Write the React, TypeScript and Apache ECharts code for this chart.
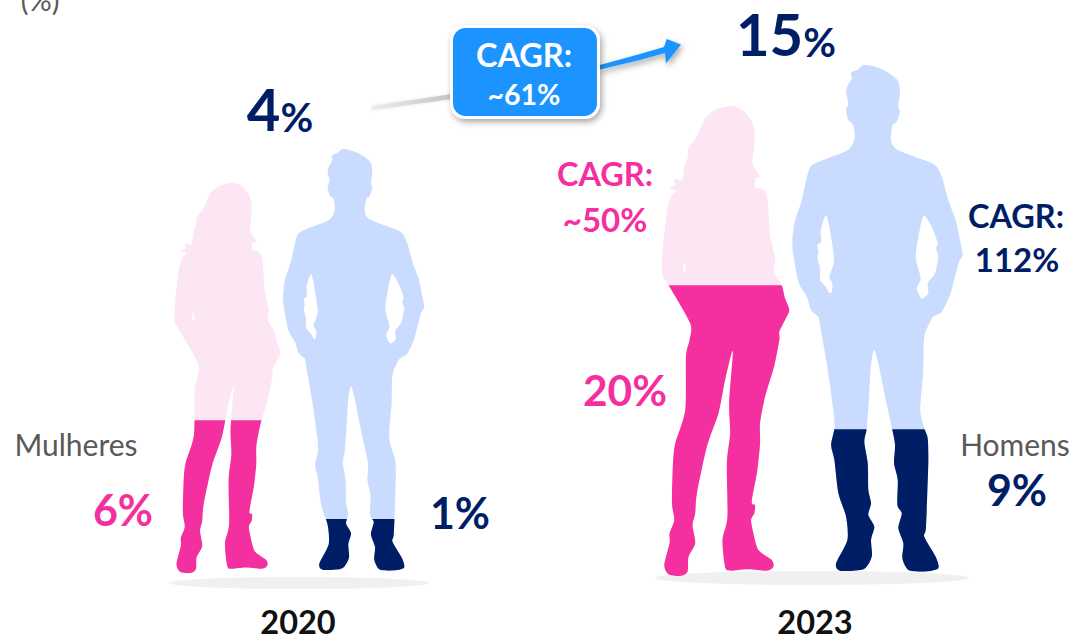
import React, { useEffect, useRef } from "react";
import * as echarts from "echarts";

const years = ["2020", "2023"];
const womenShare = [6, 20];
const menShare = [1, 9];
const totalShare = [4, 15];
// share of each silhouette's height that is filled
const womenFill = [0.392, 0.6185];
const menFill = [0.1226, 0.281];
const cagrWomen = "~50%";
const cagrMen = "112%";
const cagrTotal = "~61%";

const PINK = "#f42f9f";
const PINK_LIGHT = "#fce6f4";
const BLUE_LIGHT = "#c9dcff";
const NAVY = "#001e66";
const BLUE = "#1a94ff";
const GREY = "#595959";
const FONT = "Lato";

type P = [number, number];
const womanOutline: P[] = [
  [730,106],[741.7,109.3],[750,118.3],[754.3,130],[754.3,145],[752.3,163.3],[757.3,172.3],[759.8,176.5],[755.3,178.3],[755.3,187.3],
  [761.7,188.3],[766.7,195],[768.3,208.3],[770,235],[775,258.3],[774,271.7],[781.7,285],[785,298.3],[789.3,310],[785,320],[779.3,331.7],
  [779.3,340],[774,366.7],[765,396.7],[760,423.3],[760,443.3],[757.3,470],[751.7,501.7],[755,505],[754.3,513.3],[751,520],[753.3,533.3],
  [758.3,550],[771.7,560],[773.3,566.7],[766.7,570.7],[746.7,569.3],[730,570.7],[725,567.3],[722.3,540],[727.3,516.7],[726.7,463.3],
  [730,433.3],[729,403.3],[732.7,351],[725,380],[718.3,413.3],[706.7,446.7],[696.7,493.3],[695,513.3],[692.3,525],[695,543.3],[688.3,556.7],
  [687.3,571.7],[680,576],[668.3,574.3],[664,565],[669.3,543.3],[669.3,533.3],[674,520],[671.7,503.3],[672.7,463.3],[675,443.3],[685,410],
  [685.7,356.7],[689.3,340],[690,323.3],[668.3,285],[661.7,273.3],[662.3,251.7],[666.7,211.7],[670.7,196.7],[676,191],[668.5,187.5],[675,185],
  [674,179],[681.7,180],[684,166.7],[687.7,156.7],[688.3,148.3],[696.7,136.7],[705,118.3],[715,110],
];
const manOutline: P[] = [
  [863.3,65],[872.3,66],[885,70.7],[896.7,79.3],[900,90],[898.3,106.7],[900,111.7],[896.7,121.7],[892.7,125],[891,140],[897.7,150],[933.3,164],
  [941.7,176.7],[948.3,200],[955.7,220],[960,240],[962.7,255],[959,261.7],[953.3,283.3],[950,295],[941.7,311.7],[934,316],[931,320],[924.3,336.7],
  [923.3,370],[920.3,410],[924.3,428.3],[927.7,438.3],[928.3,463.3],[926,526.7],[924.3,536.7],[935.7,556.7],[938.3,568.3],[925,571.7],[908.3,570],
  [902.3,558.3],[903.3,543.3],[898.3,528.3],[901.7,513.3],[897.3,505],[897.7,480],[894,463.3],[895,445],[892.3,430],[885,396.7],[878.3,363.3],
  [874,350],[870.7,366.7],[869,396.7],[866.7,428.3],[864.3,441.7],[867.7,463.3],[868.3,490],[871,503.3],[868.3,515],[874.3,526.7],[871,540],
  [871.7,556.7],[863.3,569.3],[840,570.7],[836,563.3],[847.3,540],[846,516.7],[838.3,493.3],[834.3,460],[831,445],[834.3,428.3],[833.3,410],
  [826.7,363.3],[819,320],[818.3,316.7],[811,310],[806.7,296.7],[798.3,281.7],[792.3,246.7],[794.3,223.3],[801.7,200],[808.3,171.7],[815,163.3],
  [846.7,150.7],[854.3,139.3],[853.3,125],[848.3,120],[846,110],[848.3,103.3],[846,90],[851.7,78.3],[851,72.7],[858.3,69.3],
];
const manHoleL: P[] = [
  [826.7,216],[820.7,230],[821,241.7],[817.3,245],[818.3,251.7],[817.3,258.3],[820,268.3],[820,280],[825.7,286.7],[829.3,293],[831.7,291.7],[832.3,283.3],[829.3,276.7],[834,258.3],
];
const manHoleR: P[] = [
  [923.3,216],[916.7,246.7],[916,260],[920.7,278.3],[916.7,288.3],[921.7,298.5],[928.3,293.3],[927.7,283.3],[935,273.3],[938.3,256.7],[936,248.3],[937.7,243.3],[931.7,226.7],
];
const womanHole: P[] = [[683.5,262],[683,270],[685.5,272],[685,266]];

// closed Catmull-Rom curve through the traced points
function smooth(pts: P[]): string {
  const n = pts.length;
  const f = (v: number) => v.toFixed(1);
  let d = `M${f(pts[0][0])} ${f(pts[0][1])}`;
  for (let i = 0; i < n; i++) {
    const p0 = pts[(i - 1 + n) % n], p1 = pts[i], p2 = pts[(i + 1) % n], p3 = pts[(i + 2) % n];
    const c1x = p1[0] + (p2[0] - p0[0]) / 8, c1y = p1[1] + (p2[1] - p0[1]) / 8;
    const c2x = p2[0] - (p3[0] - p1[0]) / 8, c2y = p2[1] - (p3[1] - p1[1]) / 8;
    d += `C${f(c1x)} ${f(c1y)} ${f(c2x)} ${f(c2y)} ${f(p2[0])} ${f(p2[1])}`;
  }
  return d + "Z";
}
const WOMAN = "path://" + smooth(womanOutline) + smooth(womanHole);
const MAN = "path://" + smooth(manOutline) + smooth(manHoleL) + smooth(manHoleR);

const rects = [
  { left: 174.3, top: 182.7, width: 106.4, height: 390.6 },
  { left: 283, top: 149, width: 141.3, height: 421.7 },
  { left: 661.7, top: 106, width: 127.6, height: 470 },
  { left: 792.3, top: 65, width: 170.4, height: 506.7 },
];
const figures = [
  { symbol: WOMAN, fill: womenFill[0], light: PINK_LIGHT, dark: PINK, year: years[0] },
  { symbol: MAN, fill: menFill[0], light: BLUE_LIGHT, dark: NAVY, year: years[0] },
  { symbol: WOMAN, fill: womenFill[1], light: PINK_LIGHT, dark: PINK, year: years[1] },
  { symbol: MAN, fill: menFill[1], light: BLUE_LIGHT, dark: NAVY, year: years[1] },
];

function txt(text: string, x: number, y: number, fontSize: number, fill: string, fontWeight: any = "bold", lineHeight?: number) {
  return {
    type: "text", z: 20, x, y,
    style: { text, fontFamily: FONT, fontSize, fontWeight, fill, align: "center", verticalAlign: "middle", lineHeight },
  };
}
function bigPct(value: number, x: number, y: number, big: number, small: number) {
  return {
    type: "text", z: 20, x, y,
    style: {
      text: `{a|${value}}{b|%}`, align: "center", verticalAlign: "middle",
      rich: {
        a: { fontFamily: FONT, fontSize: big, fontWeight: "bold", fill: NAVY, verticalAlign: "bottom" },
        b: { fontFamily: FONT, fontSize: small, fontWeight: "bold", fill: NAVY, verticalAlign: "bottom" },
      },
    },
  };
}

export default function App() {
  const ref = useRef<HTMLDivElement>(null);
  useEffect(() => {
    const chart = echarts.init(ref.current!, undefined, { renderer: "svg" });
    const series: any[] = [];
    figures.forEach((f, i) => {
      const base = {
        type: "pictorialBar", xAxisIndex: i, yAxisIndex: i, symbol: f.symbol,
        symbolSize: ["100%", "100%"], symbolPosition: "start", symbolBoundingData: 1,
        silent: true, barWidth: "100%",
      };
      series.push({ ...base, z: 3, data: [1], itemStyle: { color: f.light } });
      series.push({ ...base, z: 4, symbolClip: true, data: [f.fill], itemStyle: { color: f.dark } });
    });
    const shadow = { shadowBlur: 6, shadowColor: "rgba(0,0,0,0.35)", shadowOffsetX: 2, shadowOffsetY: 3 };
    chart.setOption({
      animation: false,
      backgroundColor: "#ffffff",
      grid: rects.map((r) => ({ ...r, containLabel: false })),
      xAxis: figures.map((f, i) => ({ type: "category", gridIndex: i, data: [f.year], show: false })),
      yAxis: figures.map((_, i) => ({ type: "value", gridIndex: i, min: 0, max: 1, show: false })),
      series,
      graphic: [
        { type: "ellipse", z: 0, shape: { cx: 299, cy: 583, rx: 130, ry: 6 }, style: { fill: "#f0f0f0" } },
        { type: "ellipse", z: 0, shape: { cx: 812, cy: 578, rx: 157, ry: 7 }, style: { fill: "#f0f0f0" } },
        { type: "polygon", z: 5, shape: { points: [[372, 106], [452, 94], [452, 99], [372, 110]] },
          style: { fill: new echarts.graphic.LinearGradient(0, 0, 1, 0, [{ offset: 0, color: "#ececec" }, { offset: 1, color: "#c4c4c4" }]), shadowBlur: 3, shadowColor: "rgba(0,0,0,0.12)" } },
        { type: "polygon", z: 6, shape: { points: [[598, 65.5], [640, 54], [664, 47], [666.7, 39], [681, 44.5], [666, 63.5], [665, 53], [640, 60], [600, 69.5]] },
          style: { fill: BLUE, ...shadow } },
        { type: "rect", z: 7, shape: { x: 451.5, y: 26.5, width: 147, height: 91, r: 14 },
          style: { fill: BLUE, stroke: "#ffffff", lineWidth: 3, ...shadow } },
        txt("CAGR:", 524, 54, 32.5, "#ffffff"),
        txt(cagrTotal, 524, 94, 28.5, "#ffffff"),
        txt("(%)", 40, -1, 29, GREY, "normal"),
        bigPct(totalShare[0], 280, 108, 58, 40),
        bigPct(totalShare[1], 786, 33, 58, 40),
        txt("CAGR:", 605, 173, 32.5, PINK),
        txt(cagrWomen, 605, 219, 33, PINK),
        txt("CAGR:", 1016, 215, 32.5, NAVY),
        txt(cagrMen, 1017, 259, 33, NAVY),
        txt(`${womenShare[1]}%`, 625, 389, 42.5, PINK),
        txt("Mulheres", 76, 444, 30, GREY, "normal"),
        txt("Homens", 1015, 444, 30, GREY, "normal"),
        txt(`${womenShare[0]}%`, 123, 509, 43, PINK),
        txt(`${menShare[0]}%`, 460, 512, 43, NAVY),
        txt(`${menShare[1]}%`, 1017, 489, 43, NAVY),
        txt(years[0], 298, 621, 32.5, "#111111", "bold", 26),
        txt(years[1], 815, 621, 32.5, "#111111", "bold", 26),
      ],
    });
    return () => chart.dispose();
  }, []);
  return <div ref={ref} style={{ position: "fixed", left: 0, top: 0, width: 1074, height: 635 }} />;
}
